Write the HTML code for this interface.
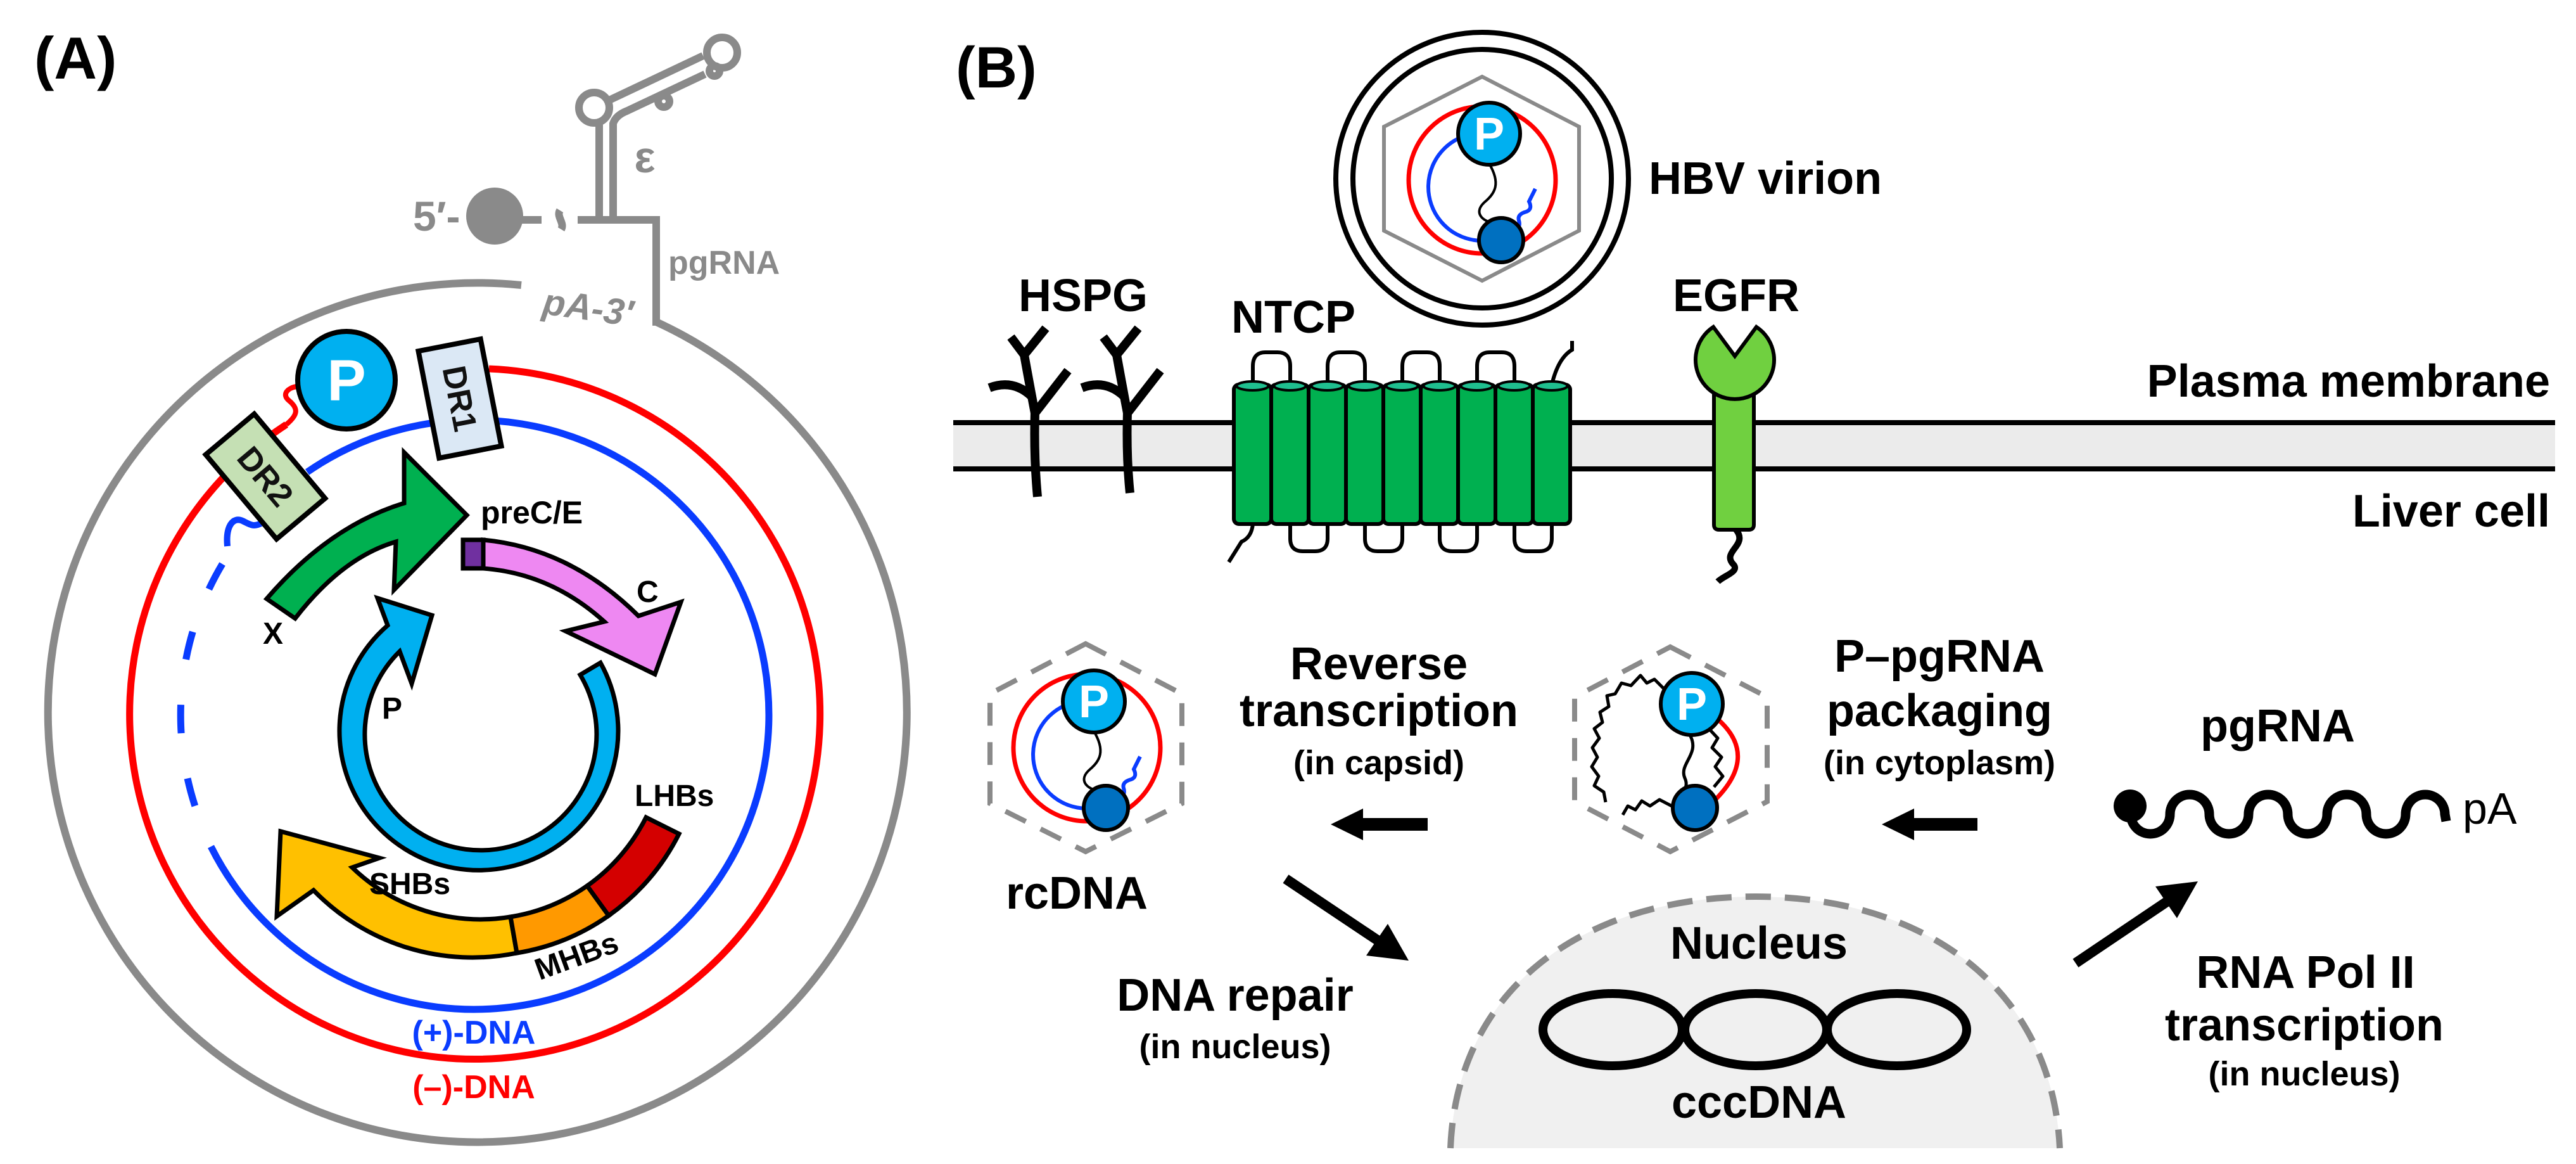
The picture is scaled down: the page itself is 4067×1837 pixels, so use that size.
<!DOCTYPE html>
<html><head><meta charset="utf-8"><style>
html,body{margin:0;padding:0;background:#fff;}
svg{display:block;}
text{font-family:"Liberation Sans",Arial,sans-serif;font-weight:bold;}
</style></head><body>
<svg width="4067" height="1837" viewBox="0 0 4067 1837" xmlns="http://www.w3.org/2000/svg">
<rect width="4067" height="1837" fill="#fff"/>

<!-- ================= PANEL A ================= -->
<text x="54" y="124" font-size="94">(A)</text>

<!-- gray pgRNA -->
<g stroke="#8a8a8a" stroke-width="12" fill="none">
  <path d="M1036 508 A678 678 0 1 1 823 450"/>
  <path d="M1036 514 L1036 347 L912 347"/>
  <path d="M800 347 L855 347"/>
  <path d="M884 332 C878 342 892 352 886 362"/>
  <path d="M946 347 L946 195"/>
  <path d="M968 347 L968 195 Q972 182 990 175 L1113 117"/>
  <path d="M962 158 L1110 88"/>
  <circle cx="938" cy="170" r="24"/>
  <circle cx="1140" cy="83" r="24"/>
  <circle cx="1048" cy="160" r="9"/>
  <circle cx="1128" cy="112" r="8"/>
</g>
<circle cx="781" cy="341" r="45" fill="#8a8a8a"/>
<text x="652" y="364" font-size="66" fill="#8a8a8a">5′-</text>
<text x="1018" y="272" font-size="70" fill="#8a8a8a" text-anchor="middle">ε</text>
<text x="1055" y="432" font-size="52" fill="#8a8a8a">pgRNA</text>
<text x="855" y="495" font-size="58" fill="#8a8a8a" font-style="italic" transform="rotate(8 855 495)">pA-3′</text>

<!-- red (-) DNA -->
<path d="M772 582 A545 545 0 1 1 452 670" stroke="#ff0000" stroke-width="11" fill="none"/>
<path d="M452 670 C470 655 472 645 456 632 C444 622 455 612 468 610" stroke="#ff0000" stroke-width="8" fill="none"/>
<!-- blue (+) DNA -->
<path d="M485 745 A465 465 0 1 1 333 1336" stroke="#0a3cff" stroke-width="11" fill="none"/>
<path d="M313 1287 A465 465 0 0 1 356 882" stroke="#0a3cff" stroke-width="11" fill="none" stroke-dasharray="45 72" stroke-dashoffset="101"/>
<path d="M359 862 C356 830 368 815 383 822 C395 828 400 832 412 826" stroke="#0a3cff" stroke-width="10" fill="none"/>

<!-- P protein -->
<circle cx="547" cy="600" r="77" fill="#00b0f0" stroke="#000" stroke-width="8"/>
<text x="547" y="632" font-size="92" fill="#fff" text-anchor="middle">P</text>

<!-- DR1 / DR2 -->
<g transform="translate(726 629) rotate(79)">
  <rect x="-86" y="-50" width="172" height="100" fill="#dbe8f5" stroke="#000" stroke-width="8"/>
  <text x="0" y="18" font-size="52" text-anchor="middle" fill="#111">DR1</text>
</g>
<g transform="translate(419 752) rotate(50)">
  <rect x="-87" y="-50" width="174" height="100" fill="#c5e0b4" stroke="#000" stroke-width="8"/>
  <text x="0" y="18" font-size="52" text-anchor="middle" fill="#111">DR2</text>
</g>

<!-- X arrow -->
<path d="M421 945 Q520 830 638 794 L638 714 L737 813 L622 931 L625 855 Q540 880 466 976 Z" fill="#00b050" stroke="#000" stroke-width="7" stroke-linejoin="miter"/>
<!-- preC / C arrow -->
<path d="M763 852 Q900 865 1008 972 L1075 950 L1034 1064 L893 996 L954 981 Q870 905 763 897 Z" fill="#ee88f2" stroke="#000" stroke-width="7"/>
<path d="M731 852 L763 852 L763 897 L731 897 Z" fill="#7030a0" stroke="#000" stroke-width="7"/>
<!-- P ring arrow -->
<path d="M948 1046 A220 220 0 1 1 612 987 L596 944 L682 971 L650 1079 L631 1028 A183 183 0 1 0 916 1065 Z" fill="#00b0f0" stroke="#000" stroke-width="7"/>
<!-- S arrows -->
<path d="M816 1504 A350 350 0 0 1 495 1405 L437 1446 L443 1312 L599 1354 L556 1369 A292 292 0 0 0 806 1447 Z" fill="#ffc000" stroke="#000" stroke-width="7"/>
<path d="M961 1445 A350 350 0 0 1 816 1504 L806 1447 A292 292 0 0 0 927 1398 Z" fill="#ff9900" stroke="#000" stroke-width="7"/>
<path d="M1072 1316 A350 350 0 0 1 961 1445 L927 1398 A292 292 0 0 0 1020 1290 Z" fill="#d40000" stroke="#000" stroke-width="7"/>

<g font-size="48" fill="#000">
  <text x="759" y="826" font-size="50">preC/E</text>
  <text x="1005" y="950">C</text>
  <text x="415" y="1016">X</text>
  <text x="603" y="1134">P</text>
  <text x="1002" y="1272">LHBs</text>
  <text x="583" y="1411">SHBs</text>
  <text x="910" y="1525" text-anchor="middle" transform="rotate(-20 910 1508)">MHBs</text>
</g>
<text x="748" y="1647" font-size="52" fill="#0a3cff" text-anchor="middle">(+)-DNA</text>
<text x="748" y="1733" font-size="52" fill="#ff0000" text-anchor="middle">(–)-DNA</text>

<!-- ================= PANEL B ================= -->
<text x="1509" y="138" font-size="92">(B)</text>

<!-- membrane -->
<rect x="1505" y="667" width="2529" height="73" fill="#ebebeb"/>
<line x1="1505" y1="667" x2="4034" y2="667" stroke="#000" stroke-width="8"/>
<line x1="1505" y1="740" x2="4034" y2="740" stroke="#000" stroke-width="8"/>

<!-- HSPG -->
<g stroke="#000" stroke-width="14" fill="none" stroke-linecap="butt" stroke-linejoin="round">
  <g transform="translate(1634 0)">
    <path d="M4 784 Q-2 720 0 650"/>
    <path d="M0 652 L52 585"/>
    <path d="M0 652 Q-8 610 -17 560"/>
    <path d="M-6 625 Q-35 598 -72 612"/>
    <path d="M-17 560 L-38 532"/>
    <path d="M-17 560 L17 518"/>
  </g>
  <g transform="translate(1780 0)">
    <path d="M4 778 Q-2 720 0 650"/>
    <path d="M0 652 L52 585"/>
    <path d="M0 652 Q-8 610 -17 560"/>
    <path d="M-6 625 Q-35 598 -72 612"/>
    <path d="M-17 560 L-38 532"/>
    <path d="M-17 560 L17 518"/>
  </g>
</g>

<!-- NTCP -->
<g stroke="#000" stroke-width="6" fill="none">
  <path d="M1978 607 L1978 578 Q1978 556 1998 556 L2017 556 Q2037 556 2037 578 L2037 607"/>
  <path d="M2096 607 L2096 578 Q2096 556 2116 556 L2135 556 Q2155 556 2155 578 L2155 607"/>
  <path d="M2214 607 L2214 578 Q2214 556 2234 556 L2253 556 Q2273 556 2273 578 L2273 607"/>
  <path d="M2332 607 L2332 578 Q2332 556 2352 556 L2371 556 Q2391 556 2391 578 L2391 607"/>
  <path d="M2450 607 Q2460 565 2482 552 L2482 538"/>
  <path d="M2037 827 L2037 850 Q2037 870 2057 870 L2076 870 Q2096 870 2096 850 L2096 827"/>
  <path d="M2155 827 L2155 850 Q2155 870 2175 870 L2194 870 Q2214 870 2214 850 L2214 827"/>
  <path d="M2273 827 L2273 850 Q2273 870 2293 870 L2312 870 Q2332 870 2332 850 L2332 827"/>
  <path d="M2391 827 L2391 850 Q2391 870 2411 870 L2430 870 Q2450 870 2450 850 L2450 827"/>
  <path d="M1978 827 Q1976 848 1960 855 L1940 887"/>
</g>
<g stroke="#000" stroke-width="6">
  <g fill="#00b050">
    <rect x="1948" y="607" width="59" height="220" rx="8"/>
    <rect x="2007" y="607" width="59" height="220" rx="8"/>
    <rect x="2066" y="607" width="59" height="220" rx="8"/>
    <rect x="2125" y="607" width="59" height="220" rx="8"/>
    <rect x="2184" y="607" width="59" height="220" rx="8"/>
    <rect x="2243" y="607" width="59" height="220" rx="8"/>
    <rect x="2302" y="607" width="59" height="220" rx="8"/>
    <rect x="2361" y="607" width="59" height="220" rx="8"/>
    <rect x="2420" y="607" width="59" height="220" rx="8"/>
  </g>
  <g fill="#1fbf8f" stroke-width="4">
    <ellipse cx="1977.5" cy="609" rx="25" ry="7"/>
    <ellipse cx="2036.5" cy="609" rx="25" ry="7"/>
    <ellipse cx="2095.5" cy="609" rx="25" ry="7"/>
    <ellipse cx="2154.5" cy="609" rx="25" ry="7"/>
    <ellipse cx="2213.5" cy="609" rx="25" ry="7"/>
    <ellipse cx="2272.5" cy="609" rx="25" ry="7"/>
    <ellipse cx="2331.5" cy="609" rx="25" ry="7"/>
    <ellipse cx="2390.5" cy="609" rx="25" ry="7"/>
    <ellipse cx="2449.5" cy="609" rx="25" ry="7"/>
  </g>
</g>

<!-- EGFR -->
<path d="M2740 835 C2762 860 2718 870 2736 890 C2748 902 2722 908 2712 918" stroke="#000" stroke-width="10" fill="none"/>
<path d="M2706 620 L2706 828 Q2706 836 2714 836 L2761 836 Q2769 836 2769 828 L2769 620 Z" fill="#70d040" stroke="#000" stroke-width="6"/>
<path d="M2739 562 L2705 516 A62 62 0 1 0 2773 516 Z" fill="#70d040" stroke="#000" stroke-width="6" stroke-linejoin="miter"/>

<!-- virion -->
<circle cx="2340" cy="282" r="231" fill="#fff" stroke="#000" stroke-width="8"/>
<circle cx="2340" cy="282" r="204" fill="#fff" stroke="#000" stroke-width="8"/>
<polygon points="2340,121 2493,200 2493,364 2340,443 2185,364 2185,200" fill="none" stroke="#8a8a8a" stroke-width="6"/>

<g id="core">
  <circle cx="2340" cy="284" r="116" fill="none" stroke="#ff0000" stroke-width="7"/>
  <path d="M2306 217 A85 85 0 0 0 2362 377" fill="none" stroke="#0a3cff" stroke-width="6"/>
  <path d="M2388 365 Q2402 360 2398 348 Q2395 338 2410 334 Q2420 330 2414 318 L2424 298" fill="none" stroke="#0a3cff" stroke-width="6"/>
  <path d="M2351 258 C2370 290 2360 305 2345 318 C2325 335 2340 350 2360 352 L2368 362" fill="none" stroke="#000" stroke-width="4"/>
  <circle cx="2351" cy="211" r="49" fill="#00b0f0" stroke="#000" stroke-width="6"/>
  <text x="2351" y="236" font-size="72" fill="#fff" text-anchor="middle">P</text>
  <circle cx="2370" cy="379" r="35" fill="#0070c0" stroke="#000" stroke-width="6"/>
</g>

<!-- rcDNA capsid -->
<polygon points="1714,1016 1866,1095 1866,1268 1714,1344 1563,1268 1563,1095" fill="none" stroke="#8a8a8a" stroke-width="8" stroke-dasharray="36 26"/>
<use href="#core" transform="translate(-624 896)"/>

<!-- packaging capsid -->
<polygon points="2637,1021 2790,1100 2790,1265 2637,1344 2486,1265 2486,1100" fill="none" stroke="#8a8a8a" stroke-width="8" stroke-dasharray="36 26"/>
<path d="M2712 1135 Q2780 1195 2702 1268" fill="none" stroke="#ff0000" stroke-width="7"/>
<g fill="none" stroke="#000" stroke-width="5" stroke-linejoin="round">
  <path d="M2628 1088 L2612 1072 L2600 1078 L2590 1066 L2575 1082 L2560 1078 L2550 1095 L2537 1098 L2540 1115 L2526 1124 L2530 1140 L2517 1150 L2525 1165 L2514 1180 L2522 1195 L2513 1210 L2524 1225 L2517 1240 L2532 1250 L2535 1266"/>
  <path d="M2645 1275 L2620 1262 L2605 1272 L2592 1264 L2582 1278 L2570 1272 L2562 1286"/>
  <path d="M2698 1150 L2712 1165 L2703 1180 L2718 1195 L2708 1210 L2720 1225 L2706 1242"/>
  <path d="M2668 1160 C2685 1190 2650 1205 2660 1228 C2668 1245 2650 1250 2665 1262"/>
</g>
<circle cx="2671" cy="1111" r="49" fill="#00b0f0" stroke="#000" stroke-width="6"/>
<text x="2671" y="1136" font-size="72" fill="#fff" text-anchor="middle">P</text>
<circle cx="2676" cy="1275" r="35" fill="#0070c0" stroke="#000" stroke-width="6"/>

<!-- nucleus -->
<path d="M2290 1812 C2300 1560 2500 1415 2772 1415 C3040 1415 3240 1560 3252 1812 Z" fill="#f0f0f0"/>
<path d="M2290 1812 C2300 1560 2500 1415 2772 1415 C3040 1415 3240 1560 3252 1812" fill="none" stroke="#8a8a8a" stroke-width="10" stroke-dasharray="40 22"/>
<g fill="none" stroke="#000" stroke-width="14">
  <ellipse cx="2546" cy="1625" rx="110" ry="57"/>
  <ellipse cx="2772" cy="1625" rx="112" ry="57"/>
  <ellipse cx="2995" cy="1625" rx="110" ry="57"/>
</g>

<!-- pgRNA -->
<circle cx="3363" cy="1272" r="26" fill="#000"/>
<path d="M3364 1285 A31 31 0 0 0 3426 1285 A31 31 0 0 1 3488 1285 A31 31 0 0 0 3550 1285 A31 31 0 0 1 3612 1285 A31 31 0 0 0 3674 1285 A31 31 0 0 1 3736 1285 A31 31 0 0 0 3798 1285 A31 31 0 0 1 3860 1285 L3862 1296" fill="none" stroke="#000" stroke-width="15"/>
<text x="3888" y="1300" font-size="70" font-weight="normal" style="font-weight:normal">pA</text>

<!-- arrows -->
<g fill="#000">
  <rect x="2140" y="1291" width="114" height="20"/>
  <polygon points="2101,1301 2152,1276 2152,1326"/>
  <rect x="3012" y="1291" width="110" height="20"/>
  <polygon points="2971,1301 3022,1276 3022,1326"/>
  <polygon points="2224,1516 2157,1508 2191,1458"/>
  <polygon points="3470,1391 3437,1449 3403,1399"/>
</g>
<line x1="2030" y1="1387" x2="2178" y2="1486" stroke="#000" stroke-width="16"/>
<line x1="3277" y1="1520" x2="3424" y2="1421" stroke="#000" stroke-width="16"/>

<!-- labels B -->
<g font-size="72" fill="#000">
  <text x="1608" y="491">HSPG</text>
  <text x="1944" y="525">NTCP</text>
  <text x="2641" y="491">EGFR</text>
  <text x="2603" y="306">HBV virion</text>
  <text x="4026" y="626" text-anchor="end">Plasma membrane</text>
  <text x="4026" y="831" text-anchor="end">Liver cell</text>
  <text x="1700" y="1434" text-anchor="middle">rcDNA</text>
  <text x="2177" y="1072" text-anchor="middle">Reverse</text>
  <text x="2177" y="1146" text-anchor="middle">transcription</text>
  <text x="3062" y="1060" text-anchor="middle">P–pgRNA</text>
  <text x="3062" y="1146" text-anchor="middle">packaging</text>
  <text x="3596" y="1170" text-anchor="middle">pgRNA</text>
  <text x="1950" y="1595" text-anchor="middle">DNA repair</text>
  <text x="2777" y="1513" text-anchor="middle">Nucleus</text>
  <text x="2777" y="1764" text-anchor="middle">cccDNA</text>
  <text x="3640" y="1559" text-anchor="middle">RNA Pol II</text>
  <text x="3638" y="1642" text-anchor="middle">transcription</text>
</g>
<g font-size="54" fill="#000" text-anchor="middle">
  <text x="2177" y="1222">(in capsid)</text>
  <text x="3062" y="1222">(in cytoplasm)</text>
  <text x="1950" y="1670">(in nucleus)</text>
  <text x="3638" y="1713">(in nucleus)</text>
</g>
</svg>
</body></html>
